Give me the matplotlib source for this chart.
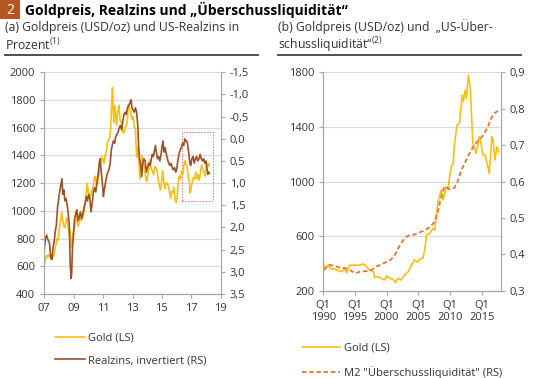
import matplotlib
matplotlib.use("Agg")
import matplotlib.pyplot as plt
from matplotlib.lines import Line2D
from matplotlib.patches import Rectangle
from matplotlib.ticker import FuncFormatter

# --- Schrift ---
plt.rcParams['font.family'] = ['Open Sans', 'DejaVu Sans']
plt.rcParams['mathtext.fontset'] = 'custom'
plt.rcParams['mathtext.rm'] = 'Open Sans'
plt.rcParams['mathtext.it'] = 'Open Sans'

GOLD = '#FDBE14'
BROWN = '#9C5228'
ORANGE = '#E8742F'
GRID = '#D9D9D9'
SPINE = '#A6A6A6'
TXT = '#333333'

# --- (a) Goldpreis (USD/oz) und US-Realzins (in %, invertiert) ---
gold_a_year = [2007.00, 2007.08, 2007.16, 2007.25, 2007.35, 2007.45, 2007.55, 2007.65, 2007.72, 2007.80,
               2007.88, 2007.95, 2008.03, 2008.10, 2008.18, 2008.25, 2008.32, 2008.40, 2008.48, 2008.55,
               2008.62, 2008.68, 2008.75, 2008.80, 2008.85, 2008.92, 2009.00, 2009.08, 2009.14, 2009.20,
               2009.30, 2009.38, 2009.45, 2009.52, 2009.60, 2009.70, 2009.78, 2009.85, 2009.92, 2010.00,
               2010.08, 2010.16, 2010.25, 2010.33, 2010.41, 2010.48, 2010.55, 2010.62, 2010.70, 2010.78,
               2010.85, 2010.92, 2011.00, 2011.06, 2011.14, 2011.22, 2011.30, 2011.38, 2011.45, 2011.52,
               2011.58, 2011.64, 2011.70, 2011.75, 2011.80, 2011.85, 2011.92, 2012.00, 2012.08, 2012.16,
               2012.24, 2012.32, 2012.40, 2012.48, 2012.56, 2012.64, 2012.72, 2012.80, 2012.88, 2012.95,
               2013.05, 2013.12, 2013.20, 2013.28, 2013.36, 2013.44, 2013.50, 2013.58, 2013.65, 2013.72,
               2013.80, 2013.88, 2013.96, 2014.05, 2014.12, 2014.20, 2014.28, 2014.36, 2014.44, 2014.52,
               2014.60, 2014.68, 2014.76, 2014.84, 2014.90, 2014.97, 2015.05, 2015.12, 2015.20, 2015.28,
               2015.36, 2015.44, 2015.52, 2015.58, 2015.66, 2015.74, 2015.82, 2015.90, 2015.97, 2016.04,
               2016.10, 2016.18, 2016.26, 2016.34, 2016.42, 2016.50, 2016.56, 2016.62, 2016.70, 2016.78,
               2016.86, 2016.92, 2016.98, 2017.06, 2017.14, 2017.22, 2017.30, 2017.38, 2017.46, 2017.54,
               2017.62, 2017.70, 2017.78, 2017.86, 2017.94, 2018.02, 2018.10, 2018.18, 2018.22]
gold_a = [615, 650, 680, 665, 690, 655, 665, 675, 720, 760,
          800, 790, 880, 920, 990, 940, 890, 880, 930, 950,
          880, 830, 860, 740, 760, 820, 860, 920, 990, 930,
          890, 920, 960, 930, 950, 990, 1050, 1130, 1200, 1120,
          1090, 1120, 1150, 1180, 1240, 1250, 1190, 1200, 1250, 1300,
          1360, 1390, 1360, 1340, 1400, 1430, 1500, 1510, 1530, 1600,
          1770, 1890, 1700, 1640, 1760, 1700, 1620, 1720, 1760, 1650,
          1640, 1580, 1560, 1600, 1610, 1640, 1770, 1740, 1720, 1660,
          1680, 1610, 1590, 1390, 1460, 1340, 1230, 1320, 1400, 1340,
          1330, 1250, 1210, 1260, 1330, 1370, 1300, 1290, 1260, 1320,
          1310, 1290, 1220, 1180, 1150, 1200, 1290, 1220, 1160, 1200,
          1200, 1180, 1140, 1090, 1140, 1130, 1170, 1080, 1060, 1100,
          1200, 1250, 1230, 1290, 1260, 1330, 1360, 1340, 1330, 1260,
          1210, 1130, 1160, 1210, 1240, 1230, 1280, 1230, 1260, 1220,
          1270, 1330, 1300, 1280, 1250, 1330, 1340, 1320, 1340]

rate_year = [2007.00, 2007.08, 2007.16, 2007.25, 2007.35, 2007.45, 2007.52, 2007.60, 2007.68, 2007.74,
             2007.82, 2007.90, 2007.96, 2008.04, 2008.12, 2008.20, 2008.26, 2008.33, 2008.40, 2008.48,
             2008.56, 2008.63, 2008.70, 2008.76, 2008.82, 2008.86, 2008.92, 2009.00, 2009.06, 2009.14,
             2009.22, 2009.30, 2009.38, 2009.46, 2009.54, 2009.62, 2009.70, 2009.78, 2009.86, 2009.94,
             2010.02, 2010.10, 2010.18, 2010.26, 2010.34, 2010.42, 2010.50, 2010.58, 2010.66, 2010.74,
             2010.80, 2010.86, 2010.94, 2011.02, 2011.08, 2011.16, 2011.24, 2011.32, 2011.40, 2011.48,
             2011.56, 2011.62, 2011.70, 2011.78, 2011.86, 2011.94, 2012.02, 2012.10, 2012.18, 2012.26,
             2012.34, 2012.42, 2012.50, 2012.58, 2012.66, 2012.74, 2012.82, 2012.90, 2012.96, 2013.04,
             2013.12, 2013.20, 2013.28, 2013.36, 2013.42, 2013.48, 2013.56, 2013.63, 2013.70, 2013.78,
             2013.86, 2013.94, 2014.02, 2014.10, 2014.18, 2014.26, 2014.34, 2014.42, 2014.50, 2014.56,
             2014.62, 2014.70, 2014.78, 2014.86, 2014.94, 2015.02, 2015.08, 2015.14, 2015.22, 2015.30,
             2015.38, 2015.46, 2015.54, 2015.62, 2015.70, 2015.78, 2015.86, 2015.94, 2016.00, 2016.08,
             2016.16, 2016.24, 2016.32, 2016.40, 2016.48, 2016.56, 2016.62, 2016.70, 2016.76, 2016.84,
             2016.90, 2016.96, 2017.04, 2017.12, 2017.20, 2017.28, 2017.36, 2017.44, 2017.52, 2017.60,
             2017.68, 2017.76, 2017.84, 2017.92, 2018.00, 2018.06, 2018.12, 2018.18, 2018.22]
realzins = [2.50, 2.25, 2.17, 2.28, 2.35, 2.70, 2.72, 2.45, 2.30, 2.10,
            1.95, 1.55, 1.40, 1.20, 1.05, 0.90, 1.25, 1.15, 1.40, 1.35,
            1.50, 1.70, 1.95, 2.80, 3.15, 3.05, 2.45, 2.10, 1.80, 1.70,
            1.60, 1.85, 1.75, 1.65, 1.80, 1.70, 1.55, 1.45, 1.30, 1.40,
            1.25, 1.35, 1.65, 1.45, 1.20, 1.10, 1.20, 1.00, 0.80, 0.55,
            0.45, 0.70, 0.95, 1.30, 1.15, 1.00, 0.85, 0.75, 0.70, 0.55,
            0.25, 0.15, 0.05, 0.10, -0.05, -0.10, -0.15, -0.25, -0.30, -0.20,
            -0.40, -0.55, -0.60, -0.55, -0.70, -0.75, -0.80, -0.88, -0.70, -0.65,
            -0.60, -0.70, -0.60, -0.30, 0.20, 0.45, 0.60, 0.85, 0.55, 0.45,
            0.50, 0.75, 0.65, 0.55, 0.60, 0.50, 0.35, 0.40, 0.25, 0.15,
            0.30, 0.45, 0.40, 0.50, 0.35, 0.15, 0.05, 0.30, 0.20, 0.35,
            0.45, 0.55, 0.60, 0.55, 0.65, 0.70, 0.65, 0.75, 0.70, 0.50,
            0.35, 0.25, 0.20, 0.10, 0.15, 0.00, 0.05, 0.05, 0.15, 0.35,
            0.55, 0.60, 0.45, 0.40, 0.55, 0.45, 0.40, 0.50, 0.45, 0.35,
            0.45, 0.50, 0.45, 0.55, 0.50, 0.65, 0.80, 0.75, 0.78]

# markierter Bereich (Jahr von/bis, Gold von/bis)
box_year = (2016.4, 2018.5)
box_gold = (1073, 1567)

# --- (b) Goldpreis (USD/oz) und M2 "Überschussliquidität" ---
gold_b_year = [1990.0, 1990.25, 1990.5, 1990.8, 1991.0, 1991.3, 1991.6, 1992.1, 1992.5, 1992.9,
               1993.2, 1993.4, 1993.7, 1994.0, 1994.2, 1994.6, 1995.0, 1995.4, 1995.8, 1996.3,
               1996.6, 1996.8, 1997.3, 1997.9, 1998.1, 1998.5, 1998.9, 1999.4, 1999.7, 1999.96,
               2000.2, 2000.5, 2001.0, 2001.4, 2001.8, 2002.3, 2002.8, 2003.1, 2003.4, 2003.9,
               2004.4, 2004.9, 2005.2, 2005.7, 2006.0, 2006.3, 2006.8, 2007.3, 2007.6, 2007.8,
               2008.1, 2008.6, 2008.9, 2009.1, 2009.4, 2009.7, 2009.9, 2010.2, 2010.5, 2010.7,
               2011.1, 2011.5, 2011.9, 2012.1, 2012.4, 2012.6, 2012.9, 2013.2, 2013.3, 2013.6,
               2013.8, 2014.1, 2014.4, 2014.6, 2014.9, 2015.2, 2015.5, 2015.8, 2016.2, 2016.6,
               2016.8, 2017.1, 2017.4, 2017.7]
gold_b = [405, 355, 375, 388, 372, 357, 362, 352, 345, 339,
          350, 357, 332, 375, 388, 385, 388, 385, 388, 396,
          388, 376, 352, 339, 298, 300, 298, 283, 278, 308,
          298, 291, 283, 259, 291, 278, 315, 325, 339, 388,
          425, 410, 430, 437, 498, 608, 620, 657, 645, 742,
          852, 938, 864, 901, 962, 950, 1023, 1108, 1133, 1267,
          1414, 1426, 1634, 1585, 1670, 1609, 1780, 1683, 1585, 1280,
          1255, 1207, 1267, 1328, 1280, 1194, 1199, 1145, 1060, 1328,
          1304, 1158, 1255, 1218]

m2_year = [1990.0, 1991.0, 1991.8, 1992.6, 1993.4, 1994.2, 1995.0, 1995.8, 1996.8, 1997.6,
           1998.4, 1999.2, 2000.0, 2000.7, 2001.3, 2001.8, 2002.3, 2002.8, 2003.4, 2004.1,
           2004.9, 2006.2, 2007.0, 2007.6, 2008.1, 2008.6, 2009.1, 2009.9, 2010.7, 2011.2,
           2011.8, 2012.3, 2012.8, 2013.3, 2013.8, 2014.4, 2014.9, 2015.4, 2016.0, 2016.5,
           2017.0, 2017.7]
m2_ratio = [0.357, 0.371, 0.368, 0.363, 0.362, 0.357, 0.348, 0.352, 0.354, 0.357,
            0.366, 0.373, 0.379, 0.386, 0.398, 0.416, 0.430, 0.444, 0.451, 0.453,
            0.458, 0.467, 0.478, 0.490, 0.517, 0.558, 0.586, 0.579, 0.583, 0.600,
            0.632, 0.650, 0.668, 0.684, 0.700, 0.711, 0.720, 0.732, 0.751, 0.774,
            0.787, 0.796]

xticks_a = [2007, 2009, 2011, 2013, 2015, 2017, 2019]
xlabels_a = ['07', '09', '11', '13', '15', '17', '19']
xticks_b = [1990, 1995, 2000, 2005, 2010, 2015]
xlabels_b = ['Q1\n1990', 'Q1\n1995', 'Q1\n2000', 'Q1\n2005', 'Q1\n2010', 'Q1\n2015']

FS = 8
SUB = 8.8


def komma(v, pos):
    return f'{v:.1f}'.replace('.', ',')


def style(ax):
    ax.spines['top'].set_visible(False)
    for s in ['left', 'right', 'bottom']:
        ax.spines[s].set_color(SPINE)
        ax.spines[s].set_linewidth(0.8)
    ax.tick_params(colors=SPINE, labelcolor=TXT, labelsize=FS, length=3, width=0.8)


fig = plt.figure(figsize=(5.33, 3.78), dpi=100)

# --- Kopf ---
fig.patches.append(Rectangle((0, 1 - 19 / 378), 20 / 533, 19 / 378, transform=fig.transFigure,
                             facecolor='#B5551F', edgecolor='none'))
fig.text(10 / 533, 1 - 10 / 378, '2', color='white', fontsize=10, ha='center', va='center')
fig.text(25 / 533, 1 - 10 / 378, 'Goldpreis, Realzins und „Überschussliquidität“',
         fontsize=10, fontweight='bold', color='black', va='center')
fig.text(5 / 533, 1 - 27 / 378, '(a) Goldpreis (USD/oz) und US-Realzins in',
         fontsize=SUB, color=TXT, va='center')
fig.text(5 / 533, 1 - 45 / 378, r'Prozent$^{(1)}$', fontsize=SUB, color=TXT, va='center')
fig.text(278 / 533, 1 - 27 / 378, '(b) Goldpreis (USD/oz) und  „US-Über-',
         fontsize=SUB, color=TXT, va='center')
fig.text(278 / 533, 1 - 45 / 378, r'schussliquidität“$^{(2)}$', fontsize=SUB, color=TXT, va='center')
fig.lines.append(Line2D([5 / 533, 258 / 533], [1 - 55 / 378] * 2, transform=fig.transFigure,
                        color='#404040', lw=1.3))
fig.lines.append(Line2D([278 / 533, 521 / 533], [1 - 55 / 378] * 2, transform=fig.transFigure,
                        color='#404040', lw=1.3))

# --- Panel (a) ---
ax1 = fig.add_axes([44.3 / 533, 84 / 378, 176.4 / 533, 221.7 / 378])
ax1.plot(gold_a_year, gold_a, color=GOLD, lw=1.2, label='Gold (LS)')
ax1.set_xlim(2007, 2019)
ax1.set_ylim(400, 2000)
ax1.set_yticks(range(400, 2001, 200))
ax1.set_xticks(xticks_a)
ax1.set_xticklabels(xlabels_a)
ax1.grid(axis='y', color=GRID, lw=0.8)
ax1.set_axisbelow(True)
style(ax1)
ax1.add_patch(Rectangle((box_year[0], box_gold[0]), box_year[1] - box_year[0], box_gold[1] - box_gold[0],
                        fill=False, edgecolor='#F07070', lw=0.7, linestyle=(0, (1.5, 1.5))))

ax1r = ax1.twinx()
ax1r.plot(rate_year, realzins, color=BROWN, lw=1.2, label='Realzins, invertiert (RS)')
ax1r.set_ylim(3.5, -1.5)
ax1r.set_yticks([-1.5, -1.0, -0.5, 0.0, 0.5, 1.0, 1.5, 2.0, 2.5, 3.0, 3.5])
ax1r.yaxis.set_major_formatter(FuncFormatter(komma))
style(ax1r)

h1 = [Line2D([], [], color=GOLD, lw=1.2), Line2D([], [], color=BROWN, lw=1.2)]
fig.legend(h1, ['Gold (LS)', 'Realzins, invertiert (RS)'], loc='upper left',
           bbox_to_anchor=(55 / 533, 1 - 333 / 378), frameon=False, fontsize=FS,
           handlelength=2.7, handletextpad=0.3, labelspacing=1.0, borderpad=0, borderaxespad=0,
           labelcolor=TXT)

# --- Panel (b) ---
ax2 = fig.add_axes([323.3 / 533, 87.3 / 378, 177.4 / 533, 218.4 / 378])
ax2.plot(gold_b_year, gold_b, color=GOLD, lw=1.2)
ax2.set_xlim(1990, 2018)
ax2.set_ylim(200, 1800)
ax2.set_yticks([200, 600, 1000, 1400, 1800])
ax2.set_xticks(xticks_b)
ax2.set_xticklabels(xlabels_b)
ax2.grid(axis='y', color=GRID, lw=0.8)
ax2.set_axisbelow(True)
style(ax2)

ax2r = ax2.twinx()
ax2r.plot(m2_year, m2_ratio, color=ORANGE, lw=1.3, linestyle=(0, (2.5, 1.5)))
ax2r.set_ylim(0.3, 0.9)
ax2r.set_yticks([0.3, 0.4, 0.5, 0.6, 0.7, 0.8, 0.9])
ax2r.yaxis.set_major_formatter(FuncFormatter(komma))
style(ax2r)

h2 = [Line2D([], [], color=GOLD, lw=1.2),
      Line2D([], [], color=ORANGE, lw=1.3, linestyle=(0, (2.5, 1.5)))]
fig.legend(h2, ['Gold (LS)', 'M2 "Überschussliquidität" (RS)'], loc='upper left',
           bbox_to_anchor=(302 / 533, 1 - 343 / 378), frameon=False, fontsize=FS,
           handlelength=3.4, handletextpad=0.4, labelspacing=1.1, borderpad=0, borderaxespad=0,
           labelcolor=TXT)

fig.savefig('out.png', dpi=100)
